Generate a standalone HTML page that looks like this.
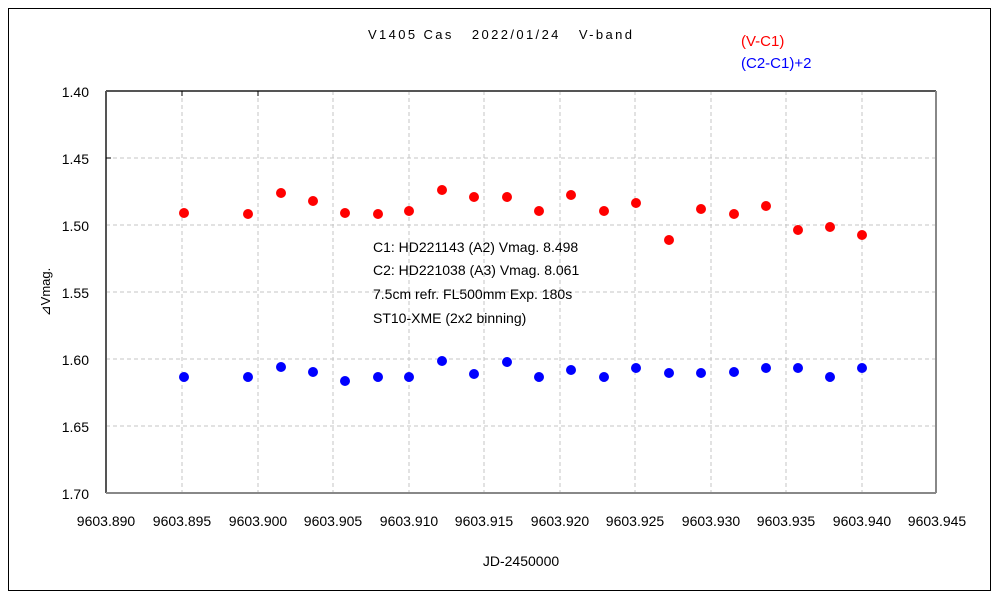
<!DOCTYPE html>
<html><head><meta charset="utf-8"><style>body{margin:0;background:#fff}svg{display:block}</style></head>
<body>
<svg width="1000" height="600" xmlns="http://www.w3.org/2000/svg" font-family="Liberation Sans, sans-serif">
<rect x="0" y="0" width="1000" height="600" fill="#fff"/>
<rect x="8.5" y="8.5" width="982" height="582" fill="none" stroke="#000" stroke-width="1"/>
<g stroke="#c4c4c4" stroke-dasharray="4,3" stroke-width="1">
<line x1="182" y1="91" x2="182" y2="493"/><line x1="258" y1="91" x2="258" y2="493"/><line x1="333" y1="91" x2="333" y2="493"/><line x1="409" y1="91" x2="409" y2="493"/><line x1="484" y1="91" x2="484" y2="493"/><line x1="560" y1="91" x2="560" y2="493"/><line x1="635" y1="91" x2="635" y2="493"/><line x1="711" y1="91" x2="711" y2="493"/><line x1="786" y1="91" x2="786" y2="493"/><line x1="862" y1="91" x2="862" y2="493"/>
<line x1="106" y1="158" x2="936" y2="158"/><line x1="106" y1="225" x2="936" y2="225"/><line x1="106" y1="292" x2="936" y2="292"/><line x1="106" y1="359" x2="936" y2="359"/><line x1="106" y1="426" x2="936" y2="426"/>
</g>
<line x1="106" y1="91" x2="936" y2="91" stroke="#555" stroke-width="2"/>
<line x1="106" y1="91" x2="106" y2="493" stroke="#555" stroke-width="2"/>
<line x1="936" y1="91" x2="936" y2="493" stroke="#888" stroke-width="2"/>
<line x1="106" y1="493" x2="936" y2="493" stroke="#888" stroke-width="2"/>
<g stroke="#000"><line x1="182" y1="91" x2="182" y2="96"/><line x1="258" y1="91" x2="258" y2="96"/><line x1="106" y1="158" x2="111" y2="158"/></g>
<g font-size="14" fill="#000" text-anchor="end">
<text x="89" y="97">1.40</text><text x="89" y="164">1.45</text><text x="89" y="231">1.50</text><text x="89" y="298">1.55</text><text x="89" y="365">1.60</text><text x="89" y="432">1.65</text><text x="89" y="499">1.70</text>
</g>
<g font-size="14" fill="#000" text-anchor="middle">
<text x="106" y="526">9603.890</text><text x="182" y="526">9603.895</text><text x="258" y="526">9603.900</text><text x="333" y="526">9603.905</text><text x="409" y="526">9603.910</text><text x="484" y="526">9603.915</text><text x="560" y="526">9603.920</text><text x="635" y="526">9603.925</text><text x="711" y="526">9603.930</text><text x="786" y="526">9603.935</text><text x="862" y="526">9603.940</text><text x="937" y="526">9603.945</text>
<text x="521" y="566">JD-2450000</text>
</g>
<text x="368" y="39" font-size="13" style="white-space:pre" textLength="264" lengthAdjust="spacing">V1405 Cas   2022/01/24   V-band</text>
<text x="50" y="292" font-size="13" text-anchor="middle" transform="rotate(-90 50 292)">⊿Vmag.</text>
<text x="741" y="46" font-size="15" fill="#f00">(V-C1)</text>
<text x="741" y="68" font-size="15" fill="#00f">(C2-C1)+2</text>
<g font-size="14" fill="#000">
<text x="373" y="252">C1: HD221143 (A2) Vmag. 8.498</text>
<text x="373" y="275">C2: HD221038 (A3) Vmag. 8.061</text>
<text x="373" y="299">7.5cm refr. FL500mm Exp. 180s</text>
<text x="373" y="323">ST10-XME (2x2 binning)</text>
</g>
<g fill="#f00">
<circle cx="184" cy="213" r="5"/><circle cx="248" cy="214" r="5"/><circle cx="281" cy="193" r="5"/><circle cx="313" cy="201" r="5"/><circle cx="345" cy="213" r="5"/><circle cx="378" cy="214" r="5"/><circle cx="409" cy="211" r="5"/><circle cx="442" cy="190" r="5"/><circle cx="474" cy="197" r="5"/><circle cx="507" cy="197" r="5"/><circle cx="539" cy="211" r="5"/><circle cx="571" cy="195" r="5"/><circle cx="604" cy="211" r="5"/><circle cx="636" cy="203" r="5"/><circle cx="669" cy="240" r="5"/><circle cx="701" cy="209" r="5"/><circle cx="734" cy="214" r="5"/><circle cx="766" cy="206" r="5"/><circle cx="798" cy="230" r="5"/><circle cx="830" cy="227" r="5"/><circle cx="862" cy="235" r="5"/>
</g>
<g fill="#00f">
<circle cx="184" cy="377" r="5"/><circle cx="248" cy="377" r="5"/><circle cx="281" cy="367" r="5"/><circle cx="313" cy="372" r="5"/><circle cx="345" cy="381" r="5"/><circle cx="378" cy="377" r="5"/><circle cx="409" cy="377" r="5"/><circle cx="442" cy="361" r="5"/><circle cx="474" cy="374" r="5"/><circle cx="507" cy="362" r="5"/><circle cx="539" cy="377" r="5"/><circle cx="571" cy="370" r="5"/><circle cx="604" cy="377" r="5"/><circle cx="636" cy="368" r="5"/><circle cx="669" cy="373" r="5"/><circle cx="701" cy="373" r="5"/><circle cx="734" cy="372" r="5"/><circle cx="766" cy="368" r="5"/><circle cx="798" cy="368" r="5"/><circle cx="830" cy="377" r="5"/><circle cx="862" cy="368" r="5"/>
</g>
</svg>
</body></html>
